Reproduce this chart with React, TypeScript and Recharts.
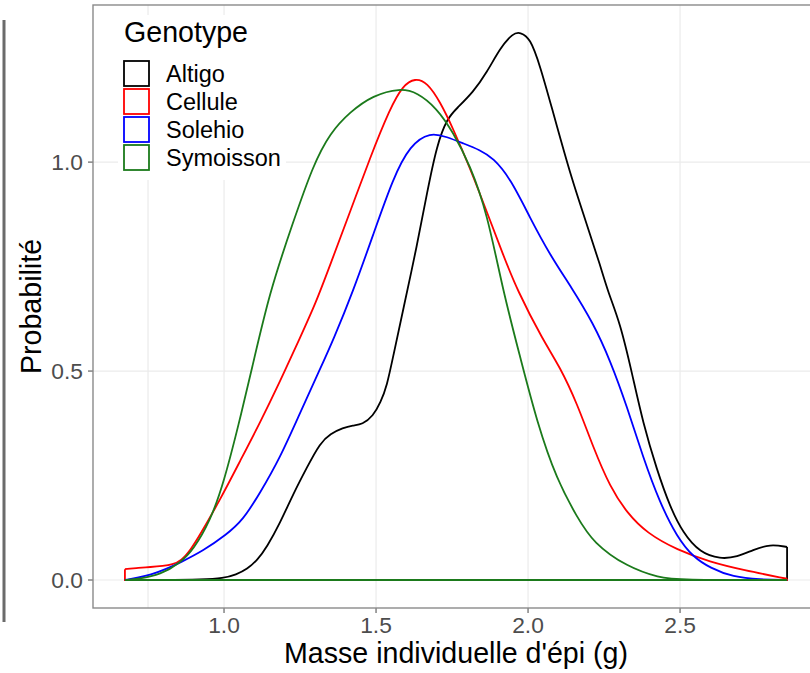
import { ComposedChart, Line, XAxis, YAxis, CartesianGrid } from 'recharts';

// densité, une paire de tableaux par génotype
const altigoX = [0.674, 0.8, 0.93, 0.997, 1.04, 1.076, 1.11, 1.141, 1.184, 1.227, 1.273, 1.316, 1.35, 1.391, 1.424, 1.455, 1.49, 1.515, 1.536, 1.556, 1.589, 1.635, 1.668, 1.7, 1.734, 1.766, 1.819, 1.865, 1.908, 1.951, 1.974, 2.007, 2.039, 2.082, 2.105, 2.143, 2.194, 2.237, 2.263, 2.303, 2.342, 2.378, 2.424, 2.467, 2.51, 2.566, 2.632, 2.688, 2.74, 2.796, 2.852];
const altigoY = [0, 0, 0.001, 0.004, 0.013, 0.026, 0.048, 0.079, 0.136, 0.205, 0.27, 0.328, 0.35, 0.364, 0.37, 0.372, 0.392, 0.425, 0.465, 0.534, 0.646, 0.801, 0.928, 1.041, 1.105, 1.129, 1.167, 1.215, 1.273, 1.309, 1.311, 1.297, 1.232, 1.12, 1.06, 0.962, 0.849, 0.754, 0.689, 0.615, 0.495, 0.376, 0.263, 0.175, 0.112, 0.065, 0.05, 0.055, 0.072, 0.086, 0.079];

const celluleX = [0.674, 0.72, 0.757, 0.8, 0.83, 0.859, 0.89, 0.921, 0.987, 1.053, 1.118, 1.184, 1.25, 1.303, 1.349, 1.414, 1.48, 1.546, 1.589, 1.628, 1.668, 1.711, 1.753, 1.809, 1.865, 1.918, 1.964, 2.049, 2.105, 2.161, 2.214, 2.27, 2.326, 2.391, 2.49, 2.599, 2.707, 2.852];
const celluleY = [0.026, 0.029, 0.031, 0.034, 0.037, 0.046, 0.072, 0.108, 0.192, 0.285, 0.376, 0.475, 0.58, 0.665, 0.754, 0.88, 1.01, 1.129, 1.184, 1.201, 1.191, 1.144, 1.081, 0.986, 0.88, 0.778, 0.694, 0.574, 0.51, 0.423, 0.318, 0.222, 0.16, 0.112, 0.072, 0.043, 0.024, 0.003];

const solehioX = [0.674, 0.72, 0.757, 0.81, 0.859, 0.931, 1.007, 1.063, 1.118, 1.184, 1.25, 1.316, 1.359, 1.424, 1.49, 1.556, 1.612, 1.678, 1.734, 1.786, 1.842, 1.885, 1.941, 2.007, 2.072, 2.143, 2.214, 2.27, 2.326, 2.378, 2.434, 2.49, 2.543, 2.599, 2.674, 2.763, 2.852];
const solehioY = [0, 0.006, 0.012, 0.026, 0.043, 0.07, 0.108, 0.144, 0.208, 0.292, 0.4, 0.505, 0.574, 0.69, 0.825, 0.962, 1.041, 1.072, 1.06, 1.045, 1.029, 1.01, 0.962, 0.866, 0.778, 0.7, 0.615, 0.526, 0.414, 0.294, 0.184, 0.103, 0.055, 0.029, 0.007, 0.001, 0];

const symoissonX = [0.674, 0.72, 0.79, 0.859, 0.898, 0.954, 1.0, 1.049, 1.09, 1.15, 1.227, 1.293, 1.349, 1.414, 1.49, 1.579, 1.635, 1.7, 1.753, 1.809, 1.865, 1.918, 1.974, 2.03, 2.095, 2.161, 2.214, 2.326, 2.434, 2.49, 2.852];
const symoissonY = [0, 0.003, 0.012, 0.043, 0.072, 0.14, 0.235, 0.375, 0.5, 0.69, 0.856, 0.993, 1.07, 1.12, 1.16, 1.177, 1.167, 1.129, 1.072, 0.993, 0.88, 0.69, 0.534, 0.376, 0.239, 0.151, 0.089, 0.031, 0.005, 0, 0];

const GENOTYPES = ['Altigo', 'Cellule', 'Solehio', 'Symoisson'];
const COLORS = ['#000000', '#ff0000', '#0000ff', '#1b7a1b'];
const SERIES_X = [altigoX, celluleX, solehioX, symoissonX];
const SERIES_Y = [altigoY, celluleY, solehioY, symoissonY];

const xTicks = [1.0, 1.5, 2.0, 2.5];
const xMinor = [0.75, 1.25, 1.75, 2.25, 2.75];
const yTicks = [0, 0.5, 1.0];
const yMinor = [0.25, 0.75, 1.25];

const FONT = '"Liberation Sans", Arial, sans-serif';

const curves = SERIES_X.map((xs, i) => xs.map((x, j) => ({ x, y: SERIES_Y[i][j] })));
// contour fermé du polygone de densité (bords verticaux + ligne de base)
const closures = SERIES_X.map((xs, i) => {
  const ys = SERIES_Y[i];
  const n = xs.length - 1;
  return [
    { x: xs[n], y: ys[n] },
    { x: xs[n], y: 0 },
    { x: xs[0], y: 0 },
    { x: xs[0], y: ys[0] },
  ];
});

export default function App() {
  return (
    <div style={{ position: 'absolute', left: 0, top: 0, width: 810, height: 673, overflow: 'hidden', background: '#fff' }}>
      <ComposedChart width={830} height={673} margin={{ top: 5, right: 11, bottom: 0, left: 0 }}>
        <CartesianGrid
          stroke="#ebebeb"
          strokeWidth={1.2}
          verticalValues={[...xMinor, ...xTicks]}
          horizontalValues={[...yMinor, ...yTicks]}
        />
        <XAxis
          type="number"
          dataKey="x"
          domain={[0.569, 2.957]}
          allowDataOverflow
          ticks={xTicks}
          tickFormatter={(v: number) => v.toFixed(1)}
          height={65}
          axisLine={false}
          tickLine={{ stroke: '#7a7a7a', strokeWidth: 1.4 }}
          tickSize={5}
          tickMargin={4}
          tick={{ fill: '#4d4d4d', fontSize: 22.8, fontFamily: FONT }}
          label={{ value: "Masse individuelle d'épi (g)", position: 'insideBottom', offset: 10, fill: '#000', fontSize: 28.6, fontFamily: FONT }}
        />
        <YAxis
          type="number"
          domain={[-0.067, 1.376]}
          allowDataOverflow
          ticks={yTicks}
          tickFormatter={(v: number) => v.toFixed(1)}
          width={93}
          axisLine={false}
          tickLine={{ stroke: '#7a7a7a', strokeWidth: 1.4 }}
          tickSize={5}
          tickMargin={5}
          tick={{ fill: '#4d4d4d', fontSize: 22.8, fontFamily: FONT }}
          label={{ value: 'Probabilité', angle: -90, position: 'insideLeft', offset: 31, fill: '#000', fontSize: 28.6, fontFamily: FONT, style: { textAnchor: 'middle' } }}
        />
        {GENOTYPES.flatMap((g, i) => [
          <Line
            key={`${g}-base`}
            data={closures[i]}
            dataKey="y"
            type="linear"
            stroke={COLORS[i]}
            strokeWidth={1.8}
            dot={false}
            activeDot={false}
            isAnimationActive={false}
          />,
          <Line
            key={g}
            data={curves[i]}
            dataKey="y"
            name={g}
            type="basis"
            stroke={COLORS[i]}
            strokeWidth={1.8}
            dot={false}
            activeDot={false}
            isAnimationActive={false}
          />,
        ])}
      </ComposedChart>
      <svg width={810} height={673} style={{ position: 'absolute', left: 0, top: 0, pointerEvents: 'none' }}>
        <line x1={4} y1={20} x2={4} y2={622} stroke="#6b6b6b" strokeWidth={3} />
        <rect x={93} y={5} width={726} height={603} fill="none" stroke="#8a8a8a" strokeWidth={1.4} />
        <rect x={118} y={15} width={168} height={165} fill="#fff" />
        <text x={124} y={42} fontSize={28.6} fontFamily={FONT} fill="#000">Genotype</text>
        {GENOTYPES.map((g, i) => (
          <g key={g}>
            <rect x={124} y={61 + i * 28} width={25} height={25} fill="#fff" stroke={COLORS[i]} strokeWidth={1.8} />
            <text x={166} y={82 + i * 28} fontSize={23.5} fontFamily={FONT} fill="#000">{g}</text>
          </g>
        ))}
      </svg>
    </div>
  );
}
